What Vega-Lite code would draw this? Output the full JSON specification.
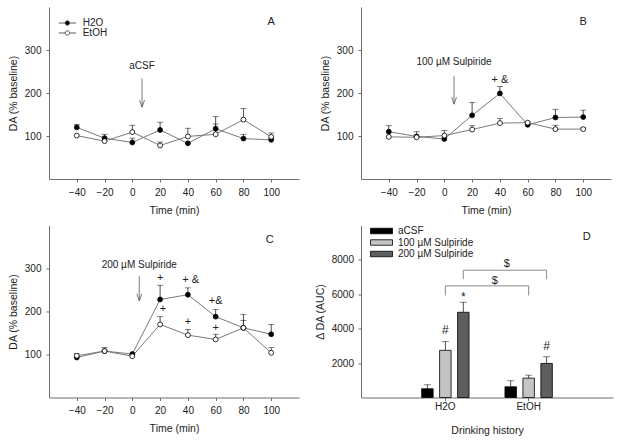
{
  "$schema": "https://vega.github.io/schema/vega-lite/v6.json",
  "background": "white",
  "padding": {"left": 8, "top": 7, "right": 5, "bottom": 5},
  "autosize": {"type": "pad"},
  "columns": 2,
  "spacing": {"row": 9.5, "column": 16},
  "resolve": {"scale": {"fill": "independent", "x": "independent", "y": "independent"}, "legend": {"fill": "independent"}},
  "config": {
    "font": "Liberation Sans",
    "view": {"stroke": null},
    "axis": {"labelFont": "Liberation Sans", "titleFont": "Liberation Sans", "labelFontSize": 10, "titleFontSize": 10.5, "titleFontWeight": "normal", "labelColor": "#222", "titleColor": "#222", "domainColor": "#6e6e6e", "tickColor": "#6e6e6e", "tickSize": 3, "grid": false, "labelPadding": 5},
    "axisY": {"titlePadding": 6},
    "axisX": {"titlePadding": 8},
    "legend": {"labelFont": "Liberation Sans", "labelColor": "#222"},
    "text": {"font": "Liberation Sans"}
  },
  "datasets": {
    "ts": [
      {"panel": "A", "time": -40, "group": "H2O", "value": 120, "upper": 127},
      {"panel": "A", "time": -20, "group": "H2O", "value": 95, "upper": 104},
      {"panel": "A", "time": 0, "group": "H2O", "value": 85, "upper": 95},
      {"panel": "A", "time": 20, "group": "H2O", "value": 114, "upper": 132},
      {"panel": "A", "time": 40, "group": "H2O", "value": 83, "upper": 83},
      {"panel": "A", "time": 60, "group": "H2O", "value": 117, "upper": 145},
      {"panel": "A", "time": 80, "group": "H2O", "value": 94, "upper": 104},
      {"panel": "A", "time": 100, "group": "H2O", "value": 91, "upper": 95},
      {"panel": "A", "time": -40, "group": "EtOH", "value": 101, "upper": 101},
      {"panel": "A", "time": -20, "group": "EtOH", "value": 88, "upper": 88},
      {"panel": "A", "time": 0, "group": "EtOH", "value": 109, "upper": 125},
      {"panel": "A", "time": 20, "group": "EtOH", "value": 78, "upper": 86},
      {"panel": "A", "time": 40, "group": "EtOH", "value": 99, "upper": 118},
      {"panel": "A", "time": 60, "group": "EtOH", "value": 104, "upper": 128},
      {"panel": "A", "time": 80, "group": "EtOH", "value": 138, "upper": 164},
      {"panel": "A", "time": 100, "group": "EtOH", "value": 98, "upper": 107},
      {"panel": "B", "time": -40, "group": "H2O", "value": 110, "upper": 124},
      {"panel": "B", "time": -20, "group": "H2O", "value": 99, "upper": 110},
      {"panel": "B", "time": 0, "group": "H2O", "value": 93, "upper": 93},
      {"panel": "B", "time": 20, "group": "H2O", "value": 148, "upper": 178},
      {"panel": "B", "time": 40, "group": "H2O", "value": 199, "upper": 215},
      {"panel": "B", "time": 60, "group": "H2O", "value": 126, "upper": 126},
      {"panel": "B", "time": 80, "group": "H2O", "value": 143, "upper": 162},
      {"panel": "B", "time": 100, "group": "H2O", "value": 144, "upper": 160},
      {"panel": "B", "time": -40, "group": "EtOH", "value": 98, "upper": 98},
      {"panel": "B", "time": -20, "group": "EtOH", "value": 97, "upper": 97},
      {"panel": "B", "time": 0, "group": "EtOH", "value": 101, "upper": 113},
      {"panel": "B", "time": 20, "group": "EtOH", "value": 115, "upper": 124},
      {"panel": "B", "time": 40, "group": "EtOH", "value": 130, "upper": 141},
      {"panel": "B", "time": 60, "group": "EtOH", "value": 131, "upper": 134},
      {"panel": "B", "time": 80, "group": "EtOH", "value": 116, "upper": 125},
      {"panel": "B", "time": 100, "group": "EtOH", "value": 116, "upper": 119},
      {"panel": "C", "time": -40, "group": "H2O", "value": 93, "upper": 93},
      {"panel": "C", "time": -20, "group": "H2O", "value": 108, "upper": 116},
      {"panel": "C", "time": 0, "group": "H2O", "value": 101, "upper": 101},
      {"panel": "C", "time": 20, "group": "H2O", "value": 228, "upper": 261},
      {"panel": "C", "time": 40, "group": "H2O", "value": 239, "upper": 255},
      {"panel": "C", "time": 60, "group": "H2O", "value": 188, "upper": 205},
      {"panel": "C", "time": 80, "group": "H2O", "value": 162, "upper": 193},
      {"panel": "C", "time": 100, "group": "H2O", "value": 147, "upper": 170},
      {"panel": "C", "time": -40, "group": "EtOH", "value": 97, "upper": 102},
      {"panel": "C", "time": -20, "group": "EtOH", "value": 108, "upper": 108},
      {"panel": "C", "time": 0, "group": "EtOH", "value": 96, "upper": 96},
      {"panel": "C", "time": 20, "group": "EtOH", "value": 170, "upper": 188},
      {"panel": "C", "time": 40, "group": "EtOH", "value": 145, "upper": 158},
      {"panel": "C", "time": 60, "group": "EtOH", "value": 135, "upper": 147},
      {"panel": "C", "time": 80, "group": "EtOH", "value": 162, "upper": 179},
      {"panel": "C", "time": 100, "group": "EtOH", "value": 104, "upper": 116}
    ],
    "arrows": [
      {"panel": "A", "time": 7, "value": 234, "bottom": 167, "label": "aCSF", "labelY": 262},
      {"panel": "B", "time": 7, "value": 239, "bottom": 174, "label": "100 µM Sulpiride", "labelY": 271},
      {"panel": "C", "time": 5, "value": 282, "bottom": 225, "label": "200 µM Sulpiride", "labelY": 309}
    ],
    "notes": [
      {"panel": "A", "time": 100, "value": 364, "text": "A"},
      {"panel": "B", "time": 100, "value": 365, "text": "B"},
      {"panel": "C", "time": 99, "value": 366, "text": "C"},
      {"panel": "B", "time": 40, "value": 230, "text": "+ &"},
      {"panel": "C", "time": 20, "value": 278, "text": "+"},
      {"panel": "C", "time": 42, "value": 273, "text": "+ &"},
      {"panel": "C", "time": 60, "value": 225, "text": "+&"},
      {"panel": "C", "time": 22, "value": 205, "text": "+"},
      {"panel": "C", "time": 40, "value": 175, "text": "+"},
      {"panel": "C", "time": 60, "value": 161, "text": "+"}
    ],
    "auc": [
      {"history": "H2O", "treatment": "aCSF", "value": 507, "upper": 740},
      {"history": "H2O", "treatment": "100 µM Sulpiride", "value": 2740, "upper": 3247},
      {"history": "H2O", "treatment": "200 µM Sulpiride", "value": 4955, "upper": 5540},
      {"history": "EtOH", "treatment": "aCSF", "value": 623, "upper": 973},
      {"history": "EtOH", "treatment": "100 µM Sulpiride", "value": 1127, "upper": 1300},
      {"history": "EtOH", "treatment": "200 µM Sulpiride", "value": 1982, "upper": 2370}
    ],
    "brackets": [
      {"bid": "L", "seq": 1, "history": "H2O", "treatment": "100 µM Sulpiride", "value": 5930},
      {"bid": "L", "seq": 2, "history": "H2O", "treatment": "100 µM Sulpiride", "value": 6490},
      {"bid": "L", "seq": 3, "history": "EtOH", "treatment": "100 µM Sulpiride", "value": 6490},
      {"bid": "L", "seq": 4, "history": "EtOH", "treatment": "100 µM Sulpiride", "value": 5930},
      {"bid": "U", "seq": 1, "history": "H2O", "treatment": "200 µM Sulpiride", "value": 6880},
      {"bid": "U", "seq": 2, "history": "H2O", "treatment": "200 µM Sulpiride", "value": 7400},
      {"bid": "U", "seq": 3, "history": "EtOH", "treatment": "200 µM Sulpiride", "value": 7400},
      {"bid": "U", "seq": 4, "history": "EtOH", "treatment": "200 µM Sulpiride", "value": 6880}
    ],
    "dnotes": [
      {"history": "H2O", "treatment": "100 µM Sulpiride", "value": 3900, "text": "#"},
      {"history": "H2O", "treatment": "200 µM Sulpiride", "value": 5850, "text": "*"},
      {"history": "EtOH", "treatment": "200 µM Sulpiride", "value": 2970, "text": "#"}
    ],
    "dlow": [{"history": "EtOH", "treatment": "aCSF", "value": 6800, "text": "$"}],
    "dhigh": [{"history": "EtOH", "treatment": "aCSF", "value": 7780, "text": "$"}],
    "dletter": [{"history": "EtOH", "treatment": "200 µM Sulpiride", "value": 9330, "text": "D"}]
  },
  "concat": [
    {
      "width": 250, "height": 172,
      "encoding": {
        "x": {"field": "time", "type": "quantitative", "title": "Time (min)", "scale": {"domain": [-60, 120], "nice": false, "zero": false}, "axis": {"values": [-40, -20, 0, 20, 40, 60, 80, 100]}},
        "y": {"field": "value", "type": "quantitative", "title": "DA (% baseline)", "scale": {"domain": [0, 400], "nice": false}, "axis": {"values": [100, 200, 300]}}
      },
      "layer": [
        {"data": {"name": "ts"}, "transform": [{"filter": "datum.panel == 'A'"}], "mark": {"type": "line", "color": "#7a7a7a", "strokeWidth": 1}, "encoding": {"detail": {"field": "group"}}},
        {"data": {"name": "ts"}, "transform": [{"filter": "datum.panel == 'A' && datum.upper > datum.value"}], "mark": {"type": "rule", "color": "#222", "strokeWidth": 0.8}, "encoding": {"y2": {"field": "upper"}}},
        {"data": {"name": "ts"}, "transform": [{"filter": "datum.panel == 'A' && datum.upper > datum.value"}], "mark": {"type": "tick", "orient": "horizontal", "size": 6, "thickness": 0.8, "color": "#222"}, "encoding": {"y": {"field": "upper", "type": "quantitative", "title": "DA (% baseline)"}}},
        {"data": {"name": "ts"}, "transform": [{"filter": "datum.panel == 'A'"}], "mark": {"type": "point", "shape": "circle", "filled": true, "size": 24, "stroke": "black", "strokeWidth": 0.8, "opacity": 1},
          "encoding": {"fill": {"field": "group", "type": "nominal", "scale": {"domain": ["H2O", "EtOH"], "range": ["black", "white"]},
            "legend": {"orient": "none", "legendX": 13.4, "legendY": 11, "title": null, "padding": 0, "symbolType": "M-2.125,0H-0.55M0.55,0H2.125M-0.55,0A0.55,0.55,0,1,1,0.55,0A0.55,0.55,0,1,1,-0.55,0Z", "symbolSize": 64, "symbolStrokeColor": "#333", "symbolStrokeWidth": 0.8, "labelFontSize": 10, "labelOffset": 10.3, "rowPadding": -3}}}},
        {"data": {"name": "arrows"}, "transform": [{"filter": "datum.panel == 'A'"}], "mark": {"type": "rule", "color": "#555", "strokeWidth": 0.8}, "encoding": {"y2": {"field": "bottom"}}},
        {"data": {"name": "arrows"}, "transform": [{"filter": "datum.panel == 'A'"}], "mark": {"type": "point", "shape": "M-0.35,-1L0,0L0.35,-1", "filled": false, "size": 196, "stroke": "#555", "strokeWidth": 0.8, "opacity": 1}, "encoding": {"y": {"field": "bottom", "type": "quantitative", "title": "DA (% baseline)"}}},
        {"data": {"name": "arrows"}, "transform": [{"filter": "datum.panel == 'A'"}], "mark": {"type": "text", "fontSize": 10, "baseline": "middle", "color": "#222"}, "encoding": {"y": {"field": "labelY", "type": "quantitative", "title": "DA (% baseline)"}, "text": {"field": "label"}}},
        {"data": {"name": "notes"}, "transform": [{"filter": "datum.panel == 'A'"}], "mark": {"type": "text", "fontSize": 11, "baseline": "middle", "color": "#222"}, "encoding": {"text": {"field": "text"}}}
      ]
    },
    {
      "width": 250, "height": 172,
      "encoding": {
        "x": {"field": "time", "type": "quantitative", "title": "Time (min)", "scale": {"domain": [-60, 120], "nice": false, "zero": false}, "axis": {"values": [-40, -20, 0, 20, 40, 60, 80, 100]}},
        "y": {"field": "value", "type": "quantitative", "title": "DA (% baseline)", "scale": {"domain": [0, 400], "nice": false}, "axis": {"values": [100, 200, 300]}}
      },
      "layer": [
        {"data": {"name": "ts"}, "transform": [{"filter": "datum.panel == 'B'"}], "mark": {"type": "line", "color": "#7a7a7a", "strokeWidth": 1}, "encoding": {"detail": {"field": "group"}}},
        {"data": {"name": "ts"}, "transform": [{"filter": "datum.panel == 'B' && datum.upper > datum.value"}], "mark": {"type": "rule", "color": "#222", "strokeWidth": 0.8}, "encoding": {"y2": {"field": "upper"}}},
        {"data": {"name": "ts"}, "transform": [{"filter": "datum.panel == 'B' && datum.upper > datum.value"}], "mark": {"type": "tick", "orient": "horizontal", "size": 6, "thickness": 0.8, "color": "#222"}, "encoding": {"y": {"field": "upper", "type": "quantitative", "title": "DA (% baseline)"}}},
        {"data": {"name": "ts"}, "transform": [{"filter": "datum.panel == 'B'"}], "mark": {"type": "point", "shape": "circle", "filled": true, "size": 24, "stroke": "black", "strokeWidth": 0.8, "opacity": 1},
          "encoding": {"fill": {"field": "group", "type": "nominal", "scale": {"domain": ["H2O", "EtOH"], "range": ["black", "white"]}, "legend": null}}},
        {"data": {"name": "arrows"}, "transform": [{"filter": "datum.panel == 'B'"}], "mark": {"type": "rule", "color": "#555", "strokeWidth": 0.8}, "encoding": {"y2": {"field": "bottom"}}},
        {"data": {"name": "arrows"}, "transform": [{"filter": "datum.panel == 'B'"}], "mark": {"type": "point", "shape": "M-0.35,-1L0,0L0.35,-1", "filled": false, "size": 196, "stroke": "#555", "strokeWidth": 0.8, "opacity": 1}, "encoding": {"y": {"field": "bottom", "type": "quantitative", "title": "DA (% baseline)"}}},
        {"data": {"name": "arrows"}, "transform": [{"filter": "datum.panel == 'B'"}], "mark": {"type": "text", "fontSize": 10, "baseline": "middle", "color": "#222"}, "encoding": {"y": {"field": "labelY", "type": "quantitative", "title": "DA (% baseline)"}, "text": {"field": "label"}}},
        {"data": {"name": "notes"}, "transform": [{"filter": "datum.panel == 'B'"}], "mark": {"type": "text", "fontSize": 11, "baseline": "middle", "color": "#222"}, "encoding": {"text": {"field": "text"}}}
      ]
    },
    {
      "width": 250, "height": 172,
      "encoding": {
        "x": {"field": "time", "type": "quantitative", "title": "Time (min)", "scale": {"domain": [-60, 120], "nice": false, "zero": false}, "axis": {"values": [-40, -20, 0, 20, 40, 60, 80, 100]}},
        "y": {"field": "value", "type": "quantitative", "title": "DA (% baseline)", "scale": {"domain": [0, 400], "nice": false}, "axis": {"values": [100, 200, 300]}}
      },
      "layer": [
        {"data": {"name": "ts"}, "transform": [{"filter": "datum.panel == 'C'"}], "mark": {"type": "line", "color": "#7a7a7a", "strokeWidth": 1}, "encoding": {"detail": {"field": "group"}}},
        {"data": {"name": "ts"}, "transform": [{"filter": "datum.panel == 'C' && datum.upper > datum.value"}], "mark": {"type": "rule", "color": "#222", "strokeWidth": 0.8}, "encoding": {"y2": {"field": "upper"}}},
        {"data": {"name": "ts"}, "transform": [{"filter": "datum.panel == 'C' && datum.upper > datum.value"}], "mark": {"type": "tick", "orient": "horizontal", "size": 6, "thickness": 0.8, "color": "#222"}, "encoding": {"y": {"field": "upper", "type": "quantitative", "title": "DA (% baseline)"}}},
        {"data": {"name": "ts"}, "transform": [{"filter": "datum.panel == 'C'"}], "mark": {"type": "point", "shape": "circle", "filled": true, "size": 24, "stroke": "black", "strokeWidth": 0.8, "opacity": 1},
          "encoding": {"fill": {"field": "group", "type": "nominal", "scale": {"domain": ["H2O", "EtOH"], "range": ["black", "white"]}, "legend": null}}},
        {"data": {"name": "arrows"}, "transform": [{"filter": "datum.panel == 'C'"}], "mark": {"type": "rule", "color": "#555", "strokeWidth": 0.8}, "encoding": {"y2": {"field": "bottom"}}},
        {"data": {"name": "arrows"}, "transform": [{"filter": "datum.panel == 'C'"}], "mark": {"type": "point", "shape": "M-0.35,-1L0,0L0.35,-1", "filled": false, "size": 196, "stroke": "#555", "strokeWidth": 0.8, "opacity": 1}, "encoding": {"y": {"field": "bottom", "type": "quantitative", "title": "DA (% baseline)"}}},
        {"data": {"name": "arrows"}, "transform": [{"filter": "datum.panel == 'C'"}], "mark": {"type": "text", "fontSize": 10, "baseline": "middle", "color": "#222"}, "encoding": {"y": {"field": "labelY", "type": "quantitative", "title": "DA (% baseline)"}, "text": {"field": "label"}}},
        {"data": {"name": "notes"}, "transform": [{"filter": "datum.panel == 'C'"}], "mark": {"type": "text", "fontSize": 11, "baseline": "middle", "color": "#222"}, "encoding": {"text": {"field": "text"}}}
      ]
    },
    {
      "width": 252, "height": 172,
      "encoding": {
        "x": {"field": "history", "type": "nominal", "title": "Drinking history", "scale": {"domain": ["H2O", "EtOH"], "paddingInner": 0, "paddingOuter": 0.5126}, "axis": {"labelAngle": 0, "labelPadding": 0.5, "titlePadding": 14}},
        "xOffset": {"field": "treatment", "type": "nominal", "scale": {"domain": ["aCSF", "100 µM Sulpiride", "200 µM Sulpiride"], "paddingInner": 0.36, "paddingOuter": 1.175}},
        "y": {"field": "value", "type": "quantitative", "title": "Δ DA (AUC)", "scale": {"domain": [0, 10000], "nice": false}, "axis": {"values": [2000, 4000, 6000, 8000], "format": "d", "labelPadding": 4.5}}
      },
      "layer": [
        {"data": {"name": "auc"}, "mark": {"type": "rule", "color": "#222", "strokeWidth": 0.8}, "encoding": {"y2": {"field": "upper"}}},
        {"data": {"name": "auc"}, "mark": {"type": "tick", "orient": "horizontal", "size": 7, "thickness": 0.8, "color": "#222"}, "encoding": {"y": {"field": "upper", "type": "quantitative", "title": "Δ DA (AUC)"}}},
        {"data": {"name": "auc"}, "mark": {"type": "bar", "stroke": "black", "strokeWidth": 0.8},
          "encoding": {"fill": {"field": "treatment", "type": "nominal", "scale": {"domain": ["aCSF", "100 µM Sulpiride", "200 µM Sulpiride"], "range": ["#000000", "#c4c4c4", "#5e5e5e"]},
            "legend": {"orient": "none", "legendX": 15, "legendY": 0, "title": null, "padding": 0, "symbolType": "M-2.2,-0.55H2.2V0.55H-2.2Z", "symbolSize": 100, "symbolStrokeColor": "black", "symbolStrokeWidth": 0.8, "labelFontSize": 10, "labelOffset": 11, "rowPadding": 0.5}}}},
        {"data": {"name": "brackets"}, "mark": {"type": "line", "color": "#8a8a8a", "strokeWidth": 1}, "encoding": {"detail": {"field": "bid"}, "order": {"field": "seq"}}},
        {"data": {"name": "dnotes"}, "mark": {"type": "text", "fontSize": 12, "baseline": "middle", "color": "#222"}, "encoding": {"text": {"field": "text"}}},
        {"data": {"name": "dlow"}, "mark": {"type": "text", "fontSize": 11, "baseline": "middle", "color": "#222", "dx": -16}, "encoding": {"text": {"field": "text"}}},
        {"data": {"name": "dhigh"}, "mark": {"type": "text", "fontSize": 11, "baseline": "middle", "color": "#222", "dx": -4}, "encoding": {"text": {"field": "text"}}},
        {"data": {"name": "dletter"}, "mark": {"type": "text", "fontSize": 11, "baseline": "middle", "color": "#222", "dx": 40}, "encoding": {"text": {"field": "text"}}}
      ]
    }
  ]
}
